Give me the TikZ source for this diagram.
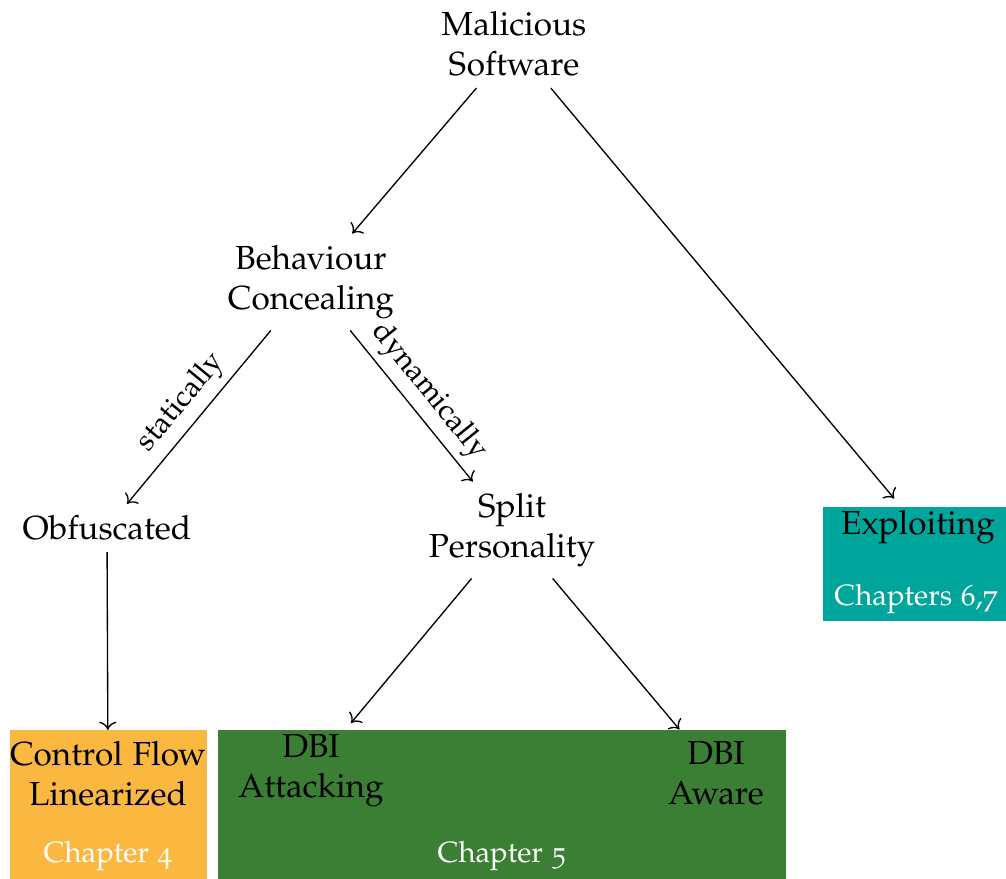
\documentclass[tikz,border=0pt]{standalone}
\usepackage[T1]{fontenc}
\usepackage[osf]{mathpazo}
\usetikzlibrary{arrows.meta}
\definecolor{boxorange}{RGB}{251,184,64}
\definecolor{boxgreen}{RGB}{59,127,52}
\definecolor{boxteal}{RGB}{0,165,155}
\tikzset{
  x=0.3pt, y=-0.3pt,
  tnode/.style={align=center, inner sep=3.3pt, font=\normalsize},
  chap/.style={text=white, inner sep=0pt, font=\fontsize{8.8}{10.5}\selectfont},
  bgbox/.style={inner sep=0pt, draw=none},
  conn/.style={->, line width=0.4pt},
  elabel/.style={sloped, above, font=\small, inner sep=2pt}
}
\begin{document}
\begin{tikzpicture}
\useasboundingbox (0,0) rectangle (1006,879);
% background boxes
\node[bgbox, fill=boxorange, minimum width=197*0.3pt, minimum height=149*0.3pt] (b4) at (108.5,804.5) {};
\node[bgbox, fill=boxgreen, minimum width=568*0.3pt, minimum height=149*0.3pt] (b5) at (502,804.5) {};
\node[bgbox, fill=boxteal, minimum width=183*0.3pt, minimum height=114*0.3pt] (b67) at (914.5,564) {};
% tree nodes
\node[tnode] (mal) at (514,44) {Malicious\\Software};
\node[tnode] (beh) at (311,282) {Behaviour\\Concealing};
\node[tnode] (obf) at (107,528) {Obfuscated};
\node[tnode] (spl) at (512,530) {Split\\Personality};
\node[tnode] (exp) at (918,527) {Exploiting};
\node[tnode] (cfl) at (108,774) {Control Flow\\Linearized};
\node[tnode] (att) at (311,771) {DBI\\Attacking};
\node[tnode] (awa) at (716,773) {DBI\\Aware};
% chapter labels
\node[chap] (c4) at (108,856) {Chapter 4};
\node[chap] (c5) at (502,856) {Chapter 5};
\node[chap] (c67) at (916,599) {Chapters 6,7};
% connectors
\draw[conn] (mal) -- (beh);
\draw[conn] (mal) -- (exp);
\draw[conn] (beh) -- node[elabel] {statically} (obf);
\draw[conn] (beh) -- node[elabel] {dynamically} (spl);
\draw[conn] (obf) -- (cfl);
\draw[conn] (spl) -- (att);
\draw[conn] (spl) -- (awa);
\end{tikzpicture}
\end{document}
